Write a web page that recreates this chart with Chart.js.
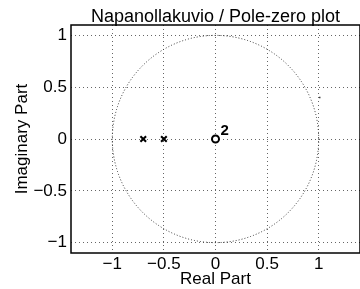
<!DOCTYPE html>
<html>
<head>
<meta charset="utf-8">
<script src="https://cdn.jsdelivr.net/npm/chart.js@4"></script>
<style>
  html, body { margin: 0; padding: 0; background: #fff; overflow: hidden; }
  canvas { display: block; }
</style>
</head>
<body>
<canvas id="pz" width="366" height="289"></canvas>
<script>
// pole / zero locations
const poleRe = [-0.7, -0.5];
const poleIm = [0, 0];
const zeroRe = [0];
const zeroIm = [0];
const zeroOrder = [2];
// small stray mark right of the circle
const speckRe = [1.01];
const speckIm = [0.4];

const xTicks = [-1, -0.5, 0, 0.5, 1];
const xTickLabels = ['\u22121', '\u22120.5', '0', '0.5', '1'];
const yTicks = [-1, -0.5, 0, 0.5, 1];
const yTickLabels = ['\u22121', '\u22120.5', '0', '0.5', '1'];
const xRange = [-1.4, 1.4];
const yRange = [-1.1, 1.1];
const unitRadius = 1;

const titleText = 'Napanollakuvio / Pole-zero plot';
const FONT = '"Liberation Sans", Arial, Helvetica, sans-serif';

function pts(xs, ys) {
    return xs.map((x, i) => ({ x: x, y: ys[i] }));
}

// dotted unit circle, drawn through the scales
const unitCircle = {
    id: 'unitCircle',
    beforeDatasetsDraw(chart) {
        const { ctx, scales: { x, y } } = chart;
        const cx = x.getPixelForValue(0), cy = y.getPixelForValue(0);
        const rx = x.getPixelForValue(unitRadius) - cx;
        const ry = cy - y.getPixelForValue(unitRadius);
        ctx.save();
        ctx.strokeStyle = '#333';
        ctx.lineWidth = 1;
        ctx.setLineDash([1, 2]);
        ctx.beginPath();
        ctx.ellipse(cx, cy, rx, ry, 0, 0, Math.PI * 2);
        ctx.stroke();
        ctx.restore();
    }
};

// axes box, title and multiplicity label
const decorations = {
    id: 'decorations',
    afterDraw(chart) {
        const { ctx, chartArea: a, scales: { x, y } } = chart;
        ctx.save();
        ctx.strokeStyle = '#000';
        ctx.lineWidth = 1.5;
        ctx.strokeRect(a.left, a.top, a.right - a.left, a.bottom - a.top);

        ctx.fillStyle = '#000';
        ctx.font = '18px ' + FONT;
        ctx.textAlign = 'center';
        ctx.textBaseline = 'alphabetic';
        ctx.fillText(titleText, (a.left + a.right) / 2, 22);

        ctx.font = 'bold 15px ' + FONT;
        ctx.textAlign = 'left';
        zeroRe.forEach((re, i) => {
            if (zeroOrder[i] > 1) {
                const px = x.getPixelForValue(re), py = y.getPixelForValue(zeroIm[i]);
                ctx.fillText(String(zeroOrder[i]), px + 5, py - 4);
            }
        });
        ctx.restore();
    }
};

const gridStyle = {
    color: '#666',
    lineWidth: 1,
    drawTicks: false
};

new Chart(document.getElementById('pz'), {
    type: 'scatter',
    data: {
        datasets: [
            {
                label: 'poles',
                data: pts(poleRe, poleIm),
                pointStyle: 'crossRot',
                pointRadius: 4,
                borderWidth: 2,
                borderColor: '#000'
            },
            {
                label: 'zeros',
                data: pts(zeroRe, zeroIm),
                pointStyle: 'circle',
                pointRadius: 3.5,
                borderWidth: 2,
                borderColor: '#000',
                backgroundColor: '#fff'
            },
            {
                label: 'speck',
                data: pts(speckRe, speckIm),
                pointStyle: 'rect',
                pointRadius: 1,
                borderWidth: 0,
                backgroundColor: '#333'
            }
        ]
    },
    options: {
        responsive: false,
        animation: false,
        devicePixelRatio: 1,
        layout: { padding: { top: 25, right: 2, left: 0, bottom: 0 } },
        plugins: {
            legend: { display: false },
            tooltip: { enabled: false },
            title: { display: false }
        },
        scales: {
            x: {
                type: 'linear',
                min: xRange[0],
                max: xRange[1],
                afterBuildTicks: (s) => { s.ticks = xTicks.map(v => ({ value: v })); },
                afterFit: (s) => { s.height = 36; },
                ticks: {
                    color: '#000',
                    padding: 1,
                    font: { family: FONT, size: 17 },
                    callback: (v) => xTickLabels[xTicks.indexOf(v)]
                },
                grid: Object.assign({}, gridStyle),
                border: { display: false, dash: [1, 3] },
                title: {
                    display: true,
                    text: 'Real Part',
                    color: '#000',
                    font: { family: FONT, size: 17 },
                    padding: { top: 0, bottom: -1 }
                }
            },
            y: {
                type: 'linear',
                min: yRange[0],
                max: yRange[1],
                afterBuildTicks: (s) => { s.ticks = yTicks.map(v => ({ value: v })); },
                afterFit: (s) => { s.width = 71; },
                ticks: {
                    color: '#000',
                    padding: 4,
                    font: { family: FONT, size: 17 },
                    callback: (v) => yTickLabels[yTicks.indexOf(v)]
                },
                grid: Object.assign({}, gridStyle),
                border: { display: false, dash: [1, 3] },
                title: {
                    display: true,
                    text: 'Imaginary Part',
                    color: '#000',
                    font: { family: FONT, size: 17 },
                    padding: { top: 12, bottom: 0 }
                }
            }
        }
    },
    plugins: [unitCircle, decorations]
});
</script>
</body>
</html>
